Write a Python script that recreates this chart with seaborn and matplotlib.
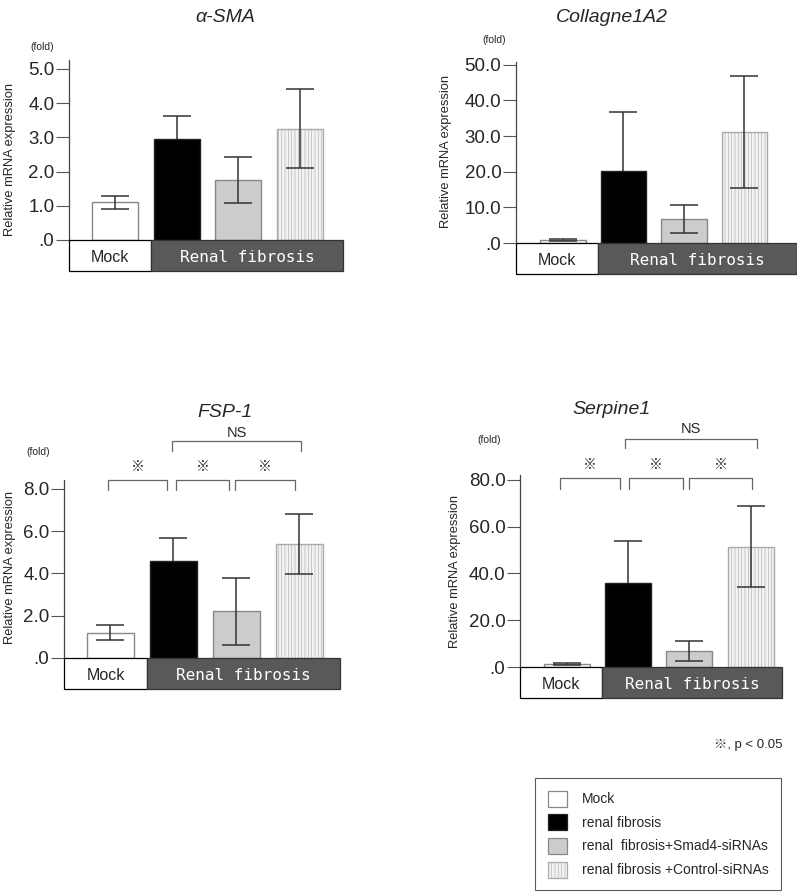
import matplotlib
matplotlib.use('Agg')
import matplotlib.pyplot as plt
import seaborn as sns
from matplotlib.patches import Rectangle, Patch
from matplotlib.ticker import FuncFormatter

groups = ['Mock', 'renal fibrosis', 'renal  fibrosis+Smad4-siRNAs', 'renal fibrosis +Control-siRNAs']
colors = ['white', 'black', '#cccccc', '#f2f2f2']
edges = ['#888888', '#222222', '#888888', '#aaaaaa']

titles = ['α-SMA', 'Collagne1A2', 'FSP-1', 'Serpine1']

sma_mean = [1.1, 2.95, 1.75, 3.25]
sma_err = [0.2, 0.67, 0.68, 1.16]
col_mean = [0.8, 20.3, 6.8, 31.2]
col_err = [0.2, 16.4, 4.0, 15.7]
fsp_mean = [1.2, 4.6, 2.2, 5.4]
fsp_err = [0.35, 1.1, 1.6, 1.43]
serp_mean = [1.2, 35.8, 6.8, 51.5]
serp_err = [0.3, 18.0, 4.3, 17.5]

sig_label = '※'
ns_label = 'NS'

sns.set_style('ticks')
plt.rcParams['font.family'] = ['Liberation Sans', 'Noto Sans CJK JP', 'DejaVu Sans']
plt.rcParams['hatch.linewidth'] = 0.4

W, H = 797, 894
fig = plt.figure(figsize=(W / 100, H / 100), dpi=100)


def px_axes(left, top, right, bottom):
    return fig.add_axes([left / W, 1 - bottom / H, (right - left) / W, (bottom - top) / H])


def fmt(v, pos):
    s = f'{v:.1f}'
    return s[1:] if s.startswith('0') else s


# layout per panel: left, right, zero-line y, top y (pixels), ylim, xlim, tick step
panels = [
    dict(mean=sma_mean, err=sma_err, box=(69, 343, 240, 60), ylim=5.26, xlim=(-0.75, 3.70), step=1,
         title=(225, 17), ylab=(10, 159), fold=(42, 47), sig=None),
    dict(mean=col_mean, err=col_err, box=(516, 797, 243, 62), ylim=50.8, xlim=(-0.777, 3.868), step=10,
         title=(612, 17), ylab=(446, 151), fold=(494, 40), sig=None),
    dict(mean=fsp_mean, err=fsp_err, box=(64, 340, 658, 480), ylim=8.42, xlim=(-0.738, 3.643), step=2,
         title=(225, 412), ylab=(10, 567), fold=(38, 452),
         sig=dict(pairs=[(-0.04, 0.9), (1.04, 1.88), (1.98, 2.93)], ptop=8.44, pleg=7.96, star=9.05,
                  ns=(0.98, 3.02), ntop=10.28, nleg=9.81, ntext=10.66)),
    dict(mean=serp_mean, err=serp_err, box=(520, 782, 667, 475), ylim=82.1, xlim=(-0.762, 3.512), step=20,
         title=(612, 409), ylab=(455, 572), fold=(489, 440),
         sig=dict(pairs=[(-0.11, 0.87), (1.02, 1.90), (2.0, 3.02)], ptop=80.9, pleg=76.1, star=86.2,
                  ns=(0.95, 3.10), ntop=97.5, nleg=93.7, ntext=101.8)),
]

for name, p in zip(titles, panels):
    left, right, y0, top = p['box']
    ax = px_axes(left, top, right, y0)
    sns.barplot(x=list(range(4)), y=p['mean'], hue=list(range(4)), palette=colors, legend=False,
                width=0.75, linewidth=1.0, ax=ax)
    for patch, ec in zip(ax.patches, edges):
        patch.set_edgecolor(ec)
        patch.set_zorder(2)
    ax.patches[3].set_hatch('|||||')
    for i in range(4):
        # the black bar hides the lower half of its error bar
        z = 1 if i == 1 else 5
        ax.errorbar(i, p['mean'][i], yerr=p['err'][i], fmt='none', ecolor='#333333',
                    elinewidth=1.1, capsize=10, capthick=1.1, zorder=z)
    ax.set_xlim(*p['xlim'])
    ax.set_ylim(0, p['ylim'])
    ticks = [i * p['step'] for i in range(int(p['ylim'] / p['step']) + 1)]
    ax.set_yticks(ticks)
    ax.yaxis.set_major_formatter(FuncFormatter(fmt))
    ax.tick_params(axis='y', labelsize=13.5, length=9.5, width=0.8, color='#555555', pad=1)
    ax.set_xticks([])
    ax.set_xlabel('')
    ax.set_ylabel('')
    sns.despine(ax=ax, bottom=True)
    ax.spines['left'].set_linewidth(0.9)
    ax.spines['left'].set_color('#444444')

    # group strip under the bars
    sx = px_axes(left, y0, right, y0 + 31)
    sx.set_xlim(*p['xlim'])
    sx.set_ylim(0, 1)
    sx.axis('off')
    split = 0.58
    sx.add_patch(Rectangle((p['xlim'][0], 0), split - p['xlim'][0], 1, facecolor='white',
                           edgecolor='black', linewidth=0.9, clip_on=False))
    sx.add_patch(Rectangle((split, 0), p['xlim'][1] - split, 1, facecolor='#595959',
                           edgecolor='#333333', linewidth=0.9, clip_on=False))
    sx.text((p['xlim'][0] + split) / 2, 0.45, 'Mock', ha='center', va='center', fontsize=11.5)
    sx.text((split + p['xlim'][1]) / 2, 0.45, 'Renal fibrosis', ha='center', va='center',
            fontsize=11.5, color='white', family='DejaVu Sans Mono')

    tx, ty = p['title']
    fig.text(tx / W, 1 - ty / H, name, ha='center', va='center', fontsize=14, style='italic')
    lx, ly = p['ylab']
    fig.text(lx / W, 1 - ly / H, 'Relative mRNA expression', ha='center', va='center',
             rotation=90, fontsize=9.3)
    fx, fy = p['fold']
    fig.text(fx / W, 1 - fy / H, '(fold)', ha='center', va='center', fontsize=7.5)

    s = p['sig']
    if s:
        for a, b in s['pairs']:
            ax.plot([a, a, b, b], [s['pleg'], s['ptop'], s['ptop'], s['pleg']], color='#666666',
                    lw=0.9, clip_on=False)
            ax.text((a + b) / 2, s['star'], sig_label, ha='center', va='center', fontsize=10,
                    color='#333333', clip_on=False)
        a, b = s['ns']
        ax.plot([a, a, b, b], [s['nleg'], s['ntop'], s['ntop'], s['nleg']], color='#666666',
                lw=0.9, clip_on=False)
        ax.text((a + b) / 2, s['ntext'], ns_label, ha='center', va='center', fontsize=10.5,
                clip_on=False)

fig.text(782 / W, 1 - 745 / H, '※, p < 0.05', ha='right', va='center', fontsize=9.5)

handles = [Patch(facecolor=c, edgecolor=e, linewidth=0.9) for c, e in zip(colors, edges)]
handles[3].set_hatch('|||||')
leg = fig.legend(handles, groups, loc='upper left', bbox_to_anchor=(535 / W, 1 - 778 / H),
                 fontsize=10, frameon=True, fancybox=False, handlelength=1.4, handleheight=1.4,
                 labelspacing=0.55, borderpad=0.9, handletextpad=1.1, borderaxespad=0)
leg.get_frame().set_edgecolor('#333333')
leg.get_frame().set_linewidth(0.8)

fig.savefig('out.png', dpi=100)
